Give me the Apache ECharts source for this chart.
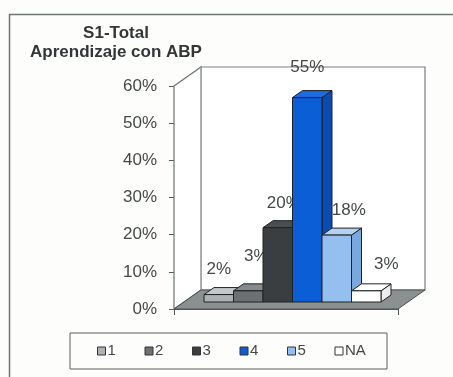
<!DOCTYPE html>
<html>
<head>
<meta charset="utf-8">
<script src="https://cdn.jsdelivr.net/npm/echarts@6/dist/echarts.min.js"></script>
<style>
  html, body { margin: 0; padding: 0; background: #fdfdfc; }
  #chart { width: 453px; height: 377px; }
</style>
</head>
<body>
<div id="chart"></div>
<script>
// Answer categories and their shares (%)
const categories = ['1', '2', '3', '4', '5', 'NA'];
const values = [2, 3, 20, 55, 18, 3];
const yTicks = { min: 0, max: 60, interval: 10 };
const titleText = 'S1-Total\nAprendizaje con ABP';

// Face / top / side shades for each box
const faceColors = ['#adb1b3', '#6c7073', '#3b3e40', '#0c5ed6', '#95bfef', '#ffffff'];
const topColors  = ['#c6c9cb', '#868a8d', '#4b4e51', '#1c6be0', '#b3d2f5', '#ffffff'];
const sideColors = ['#8d9193', '#55585b', '#2b2d2f', '#0a4cb2', '#79a7de', '#ececec'];
// Label nudges relative to the top of each box
const labelNudge = [[0, -25], [8, -35], [6, -24], [0, -30], [12, -25], [20, -27]];

const FONT = 'Arial, "Liberation Sans", sans-serif';
const BOX_DX = 10, BOX_DY = -7;     // depth of each box
const ROOM_DX = 27, ROOM_DY = -19;  // depth of the walls / floor

const chart = echarts.init(document.getElementById('chart'));

// Walls and floor drawn on the front axis system
const roomSeries = {
  type: 'custom',
  name: '__room',
  xAxisIndex: 0,
  yAxisIndex: 0,
  silent: true,
  z: 1,
  data: [['S1', yTicks.max]],
  renderItem: function (params, api) {
    const base = api.coord(['S1', yTicks.min]);
    const top = api.coord(['S1', yTicks.max]);
    const bw = api.size(['S1', 0])[0];
    const x0 = base[0] - bw / 2, x1 = base[0] + bw / 2;
    const yb = base[1], yt = top[1];
    const dx = ROOM_DX, dy = ROOM_DY;
    return {
      type: 'group',
      children: [
        { type: 'polygon', shape: { points: [[x0 + dx, yt + dy], [x1 + dx, yt + dy], [x1 + dx, yb + dy], [x0 + dx, yb + dy]] },
          style: { fill: '#ffffff', stroke: '#7a7f80', lineWidth: 1.2 } },
        { type: 'polygon', shape: { points: [[x0, yt], [x0 + dx, yt + dy], [x0 + dx, yb + dy], [x0, yb]] },
          style: { fill: '#ffffff', stroke: '#6e7374', lineWidth: 1.2 } },
        { type: 'line', shape: { x1: x0 + dx, y1: yt + dy, x2: x0 + dx, y2: yb + dy },
          style: { stroke: '#b5b9ba', lineWidth: 1 } },
        { type: 'polygon', shape: { points: [[x0, yb], [x1, yb], [x1 + dx, yb + dy], [x0 + dx, yb + dy]] },
          style: { fill: '#8b9091', stroke: '#4e5253', lineWidth: 1 } }
      ]
    };
  }
};

// One 3D box per answer category
const boxSeries = categories.map(function (cat, i) {
  return {
    type: 'custom',
    name: cat,
    xAxisIndex: 1,
    yAxisIndex: 1,
    z: 2 + i,
    itemStyle: { color: faceColors[i] },
    data: [[cat, values[i]]],
    renderItem: function (params, api) {
      const c = api.value(0);
      const v = api.value(1);
      const p0 = api.coord([c, 0]);
      const p1 = api.coord([c, v]);
      const bw = api.size([c, 0])[0];
      const xl = p0[0] - bw / 2, xr = p0[0] + bw / 2;
      const yb = p0[1], yt = p1[1];
      const dx = BOX_DX, dy = BOX_DY;
      const stroke = '#1f2224';
      return {
        type: 'group',
        children: [
          { type: 'polygon', shape: { points: [[xr, yt], [xr + dx, yt + dy], [xr + dx, yb + dy], [xr, yb]] },
            style: { fill: sideColors[i], stroke: stroke, lineWidth: 1 } },
          { type: 'polygon', shape: { points: [[xl, yt], [xr, yt], [xr + dx, yt + dy], [xl + dx, yt + dy]] },
            style: { fill: topColors[i], stroke: stroke, lineWidth: 1 } },
          { type: 'rect', shape: { x: xl, y: yt, width: bw, height: yb - yt },
            style: { fill: faceColors[i], stroke: stroke, lineWidth: 1 } },
          { type: 'text', z2: 10,
            style: { text: values[i] + '%', x: p0[0] + labelNudge[i][0], y: yt + labelNudge[i][1],
                     align: 'center', verticalAlign: 'middle', fill: '#454849',
                     font: '17px ' + FONT } }
        ]
      };
    }
  };
});

chart.setOption({
  backgroundColor: '#fdfdfc',
  animation: false,
  textStyle: { fontFamily: FONT },
  title: {
    text: titleText,
    left: 111,
    top: 19,
    textAlign: 'center',
    textStyle: { fontSize: 17, fontWeight: 'bold', color: '#333637', lineHeight: 19, fontFamily: FONT }
  },
  legend: {
    data: categories.map(function (c, i) {
      return { name: c, icon: 'rect', itemStyle: { color: faceColors[i], borderColor: '#333', borderWidth: 1 } };
    }),
    left: 70,
    top: 333,
    orient: 'horizontal',
    itemWidth: 8,
    itemHeight: 8,
    itemGap: 9,
    padding: [10, 14, 10, 27],
    borderColor: '#5a5e5f',
    borderWidth: 1,
    selectedMode: false,
    textStyle: { fontSize: 15, color: '#444748', width: 28, lineHeight: 16, padding: [0, 0, 0, -3] }
  },
  grid: [
    { left: 174, top: 86, width: 224, height: 223, containLabel: false },
    { left: 204, top: 79, width: 177, height: 223, containLabel: false }
  ],
  xAxis: [
    { gridIndex: 0, type: 'category', data: ['S1'], boundaryGap: true,
      axisLine: { show: true, lineStyle: { color: '#555a5b' } },
      axisTick: { show: true, length: 6, lineStyle: { color: '#555a5b' } },
      axisLabel: { show: false }, splitLine: { show: false } },
    { gridIndex: 1, type: 'category', data: categories, boundaryGap: true, show: false }
  ],
  yAxis: [
    { gridIndex: 0, type: 'value', min: yTicks.min, max: yTicks.max, interval: yTicks.interval,
      axisLine: { show: true, lineStyle: { color: '#555a5b' } },
      axisTick: { show: true, length: 5, lineStyle: { color: '#555a5b' } },
      axisLabel: { formatter: '{value}%', fontSize: 17, color: '#454849', margin: 17 },
      splitLine: { show: false } },
    { gridIndex: 1, type: 'value', min: yTicks.min, max: yTicks.max, interval: yTicks.interval, show: false }
  ],
  graphic: [
    { type: 'rect', left: 7, top: 12, shape: { x: 0, y: 0, width: 470, height: 400 },
      style: { fill: null, stroke: '#6f7475', lineWidth: 1.5 }, silent: true, z: -1 }
  ],
  series: [roomSeries].concat(boxSeries)
});
</script>
</body>
</html>
